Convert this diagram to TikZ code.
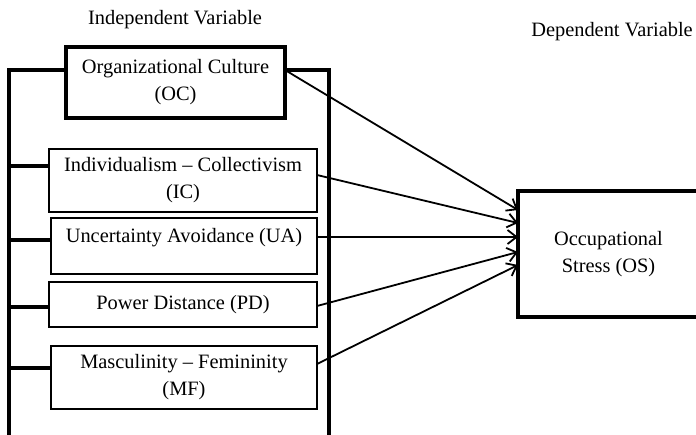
\documentclass[tikz,border=0pt]{standalone}
\usepackage{fontspec}
\setmainfont{Liberation Serif}
\usetikzlibrary{arrows.meta}
\begin{document}
\begin{tikzpicture}[x=1pt,y=-1pt,
  every node/.style={font=\fontsize{20.4}{27}\selectfont},
  boxthin/.style={draw, line width=2.2pt, inner sep=0pt, outer sep=0pt, align=center},
  boxthick/.style={draw, line width=3.4pt, inner sep=0pt, outer sep=0pt, align=center},
  frame/.style={line width=3.4pt},
  arr/.style={line width=1.8pt, -{Straight Barb[length=9pt,width=14pt,line width=1.8pt]}}
]
\useasboundingbox (0,0) rectangle (696,435);
\node (iv) at (175,20) {Independent Variable};
\node (dv) at (612,32) {Dependent Variable};
\node[boxthick, minimum width=219pt, minimum height=71pt] (oc) at (175.5,82.5) {Organizational Culture\\(OC)};
\node[boxthin, minimum width=268pt, minimum height=63pt] (ic) at (183,180.5) {Individualism -- Collectivism\\(IC)};
\node[boxthin, minimum width=266pt, minimum height=56pt, text height=14pt, text depth=20pt] (ua) at (184,246) {Uncertainty Avoidance (UA)};
\node[boxthin, minimum width=268pt, minimum height=45pt] (pd) at (183,304.5) {Power Distance (PD)};
\node[boxthin, minimum width=266pt, minimum height=63pt] (mf) at (184,377.5) {Masculinity -- Femininity\\(MF)};
\node[boxthick, minimum width=181pt, minimum height=126pt] (os) at (608.5,254) {Occupational\\Stress (OS)};
\coordinate (fl) at (9,70);
\coordinate (fr) at (329,70);
\coordinate (bl) at (9,440);
\coordinate (br) at (329,440);
\draw[frame] (bl) -- (fl) -- (oc.west |- fl);
\draw[frame] (oc.east |- fr) -- (fr) -- (br);
\draw[frame] ([yshift=14.5pt]ic.west) -- ([yshift=14.5pt]ic.west -| fl);
\draw[frame] ([yshift=6pt]ua.west) -- ([yshift=6pt]ua.west -| fl);
\draw[frame] ([yshift=-2.5pt]pd.west) -- ([yshift=-2.5pt]pd.west -| fl);
\draw[frame] ([yshift=9.5pt]mf.west) -- ([yshift=9.5pt]mf.west -| fl);
\draw[arr] (oc.east |- fr) -- ([yshift=44pt]os.west);
\draw[arr] ([yshift=5.5pt]ic.east) -- ([yshift=31pt]os.west);
\draw[arr] ([yshift=9pt]ua.east) -- ([yshift=17pt]os.west);
\draw[arr] ([yshift=-1.5pt]pd.east) -- ([yshift=2pt]os.west);
\draw[arr] ([yshift=13.5pt]mf.east) -- ([yshift=-11pt]os.west);
\end{tikzpicture}
\end{document}
